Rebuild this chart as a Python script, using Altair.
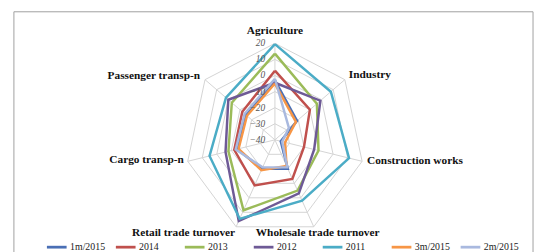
import altair as alt
import pandas as pd

categories = ["Agriculture", "Industry", "Construction works", "Wholesale trade turnover",
              "Retail trade turnover", "Cargo transp-n", "Passenger transp-n"]
series_names = ["1m/2015", "2014", "2013", "2012", "2011", "3m/2015", "2m/2015"]
colors = ["#4A6FB5", "#C0504D", "#9BBB59", "#6E5A96", "#4BACC6", "#F79646", "#A9B9DF"]

v_1m2015 = [-3, -21, -36, -20, -20, -14, -15]
v_2014 = [3, -10, -20, -13, -8.6, -12, -12]
v_2013 = [13.6, -4, -10, -5, 8.6, -8, -3]
v_2012 = [-4.5, -1, -13, -3, 16, -6, 0]
v_2011 = [19.5, 8, 11, 2, 14.5, 5, 2]
v_3m2015 = [-5, -22, -33, -22, -19, -15, -16]
v_2m2015 = [-2, -28, -35, -21, -21, -13, -14]

ticks = [20, 10, 0, -10, -20, -30, -40]
rmin = -40
rmax = 20

series_values = [v_1m2015, v_2014, v_2013, v_2012, v_2011, v_3m2015, v_2m2015]
n = len(categories)

rows = []
for k, (s, vals) in enumerate(zip(series_names, series_values)):
    for i in range(n + 1):
        rows.append({"series": s, "sidx": k, "idx": i % n, "ord": i, "value": vals[i % n]})
df = pd.DataFrame(rows)

grid_rows = []
for t in ticks:
    if t == rmin:
        continue
    for i in range(n + 1):
        grid_rows.append({"ring": t, "idx": i % n, "ord": i, "value": t})
grid = pd.DataFrame(grid_rows)

spokes = pd.DataFrame({"idx": list(range(n)), "value": [rmax] * n})
labels = pd.DataFrame({"cat": categories, "idx": list(range(n)), "value": [rmax] * n})
tick_df = pd.DataFrame({"t": ticks, "idx": [0] * len(ticks), "value": ticks})

W, H = 535, 244
xs = alt.Scale(domain=[-179.1, 174.5], nice=False, zero=False)
ys = alt.Scale(domain=[-68.6, 80.83], nice=False, zero=False)

calc_x = f"(datum.value - ({rmin})) * sin(2 * PI * datum.idx / {n})"
calc_y = f"(datum.value - ({rmin})) * cos(2 * PI * datum.idx / {n})"

def base(data):
    return alt.Chart(data).transform_calculate(px=calc_x, py=calc_y)

X = alt.X("px:Q", scale=xs, axis=None)
Y = alt.Y("py:Q", scale=ys, axis=None)

frame = alt.Chart(alt.Data(values=[{}])).mark_rect(
    fill="white", stroke="#A0A0A0", strokeWidth=1
).encode(x=alt.value(6), y=alt.value(2), x2=alt.value(533), y2=alt.value(320))

grid_lines = base(grid).mark_line(color="#D3D3D3", strokeWidth=1).encode(
    x=X, y=Y, detail="ring:N", order="ord:Q")

spoke_lines = base(spokes).transform_calculate(zero="0").mark_rule(
    color="#D3D3D3", strokeWidth=1).encode(
    x=X, y=Y, x2=alt.X2("zero:Q"), y2=alt.Y2("zero:Q"))

series_lines = base(df).mark_line(strokeWidth=2.5, strokeJoin="miter").encode(
    x=X, y=Y, order="ord:Q", detail="sidx:O",
    color=alt.Color("series:N", scale=alt.Scale(domain=series_names, range=colors),
                    sort=series_names,
                    legend=alt.Legend(title=None, orient="none", direction="horizontal",
                                      legendX=38, legendY=229, symbolType="stroke",
                                      symbolStrokeWidth=2.8, symbolSize=400,
                                      labelFont="Liberation Serif", labelFontSize=10,
                                      labelColor="#222222", columnPadding=4,
                                      gridAlign="all", labelOffset=2)),
)

tick_text = base(tick_df).mark_text(
    align="right", baseline="middle", dx=-10, font="Liberation Serif",
    fontSize=9.5, fontStyle="italic", color="#555555").encode(x=X, y=Y, text="t:Q")

lab_font = dict(font="Liberation Serif", fontSize=11.5, fontWeight="bold", color="#111111",
                baseline="middle")
label_specs = [
    ("Agriculture", "center", 0, -12),
    ("Industry", "left", 4, -5),
    ("Construction works", "left", 5, 0),
    ("Wholesale trade turnover", "center", 4, 6),
    ("Retail trade turnover", "right", -1, 6),
    ("Cargo transp-n", "right", -4, -1),
    ("Passenger transp-n", "right", -5, -4),
]
label_layers = []
for name, al, dx, dy in label_specs:
    label_layers.append(
        base(labels).transform_filter(alt.datum.cat == name).mark_text(
            align=al, dx=dx, dy=dy, **lab_font).encode(x=X, y=Y, text="cat:N"))

chart = alt.layer(frame, grid_lines, spoke_lines, series_lines, tick_text, *label_layers).properties(
    width=W, height=H, padding=0, background="white",
    autosize=alt.AutoSizeParams(type="none")
).configure_view(stroke=None)

chart.save("out.html", embed_options={"renderer": "svg", "actions": False})
